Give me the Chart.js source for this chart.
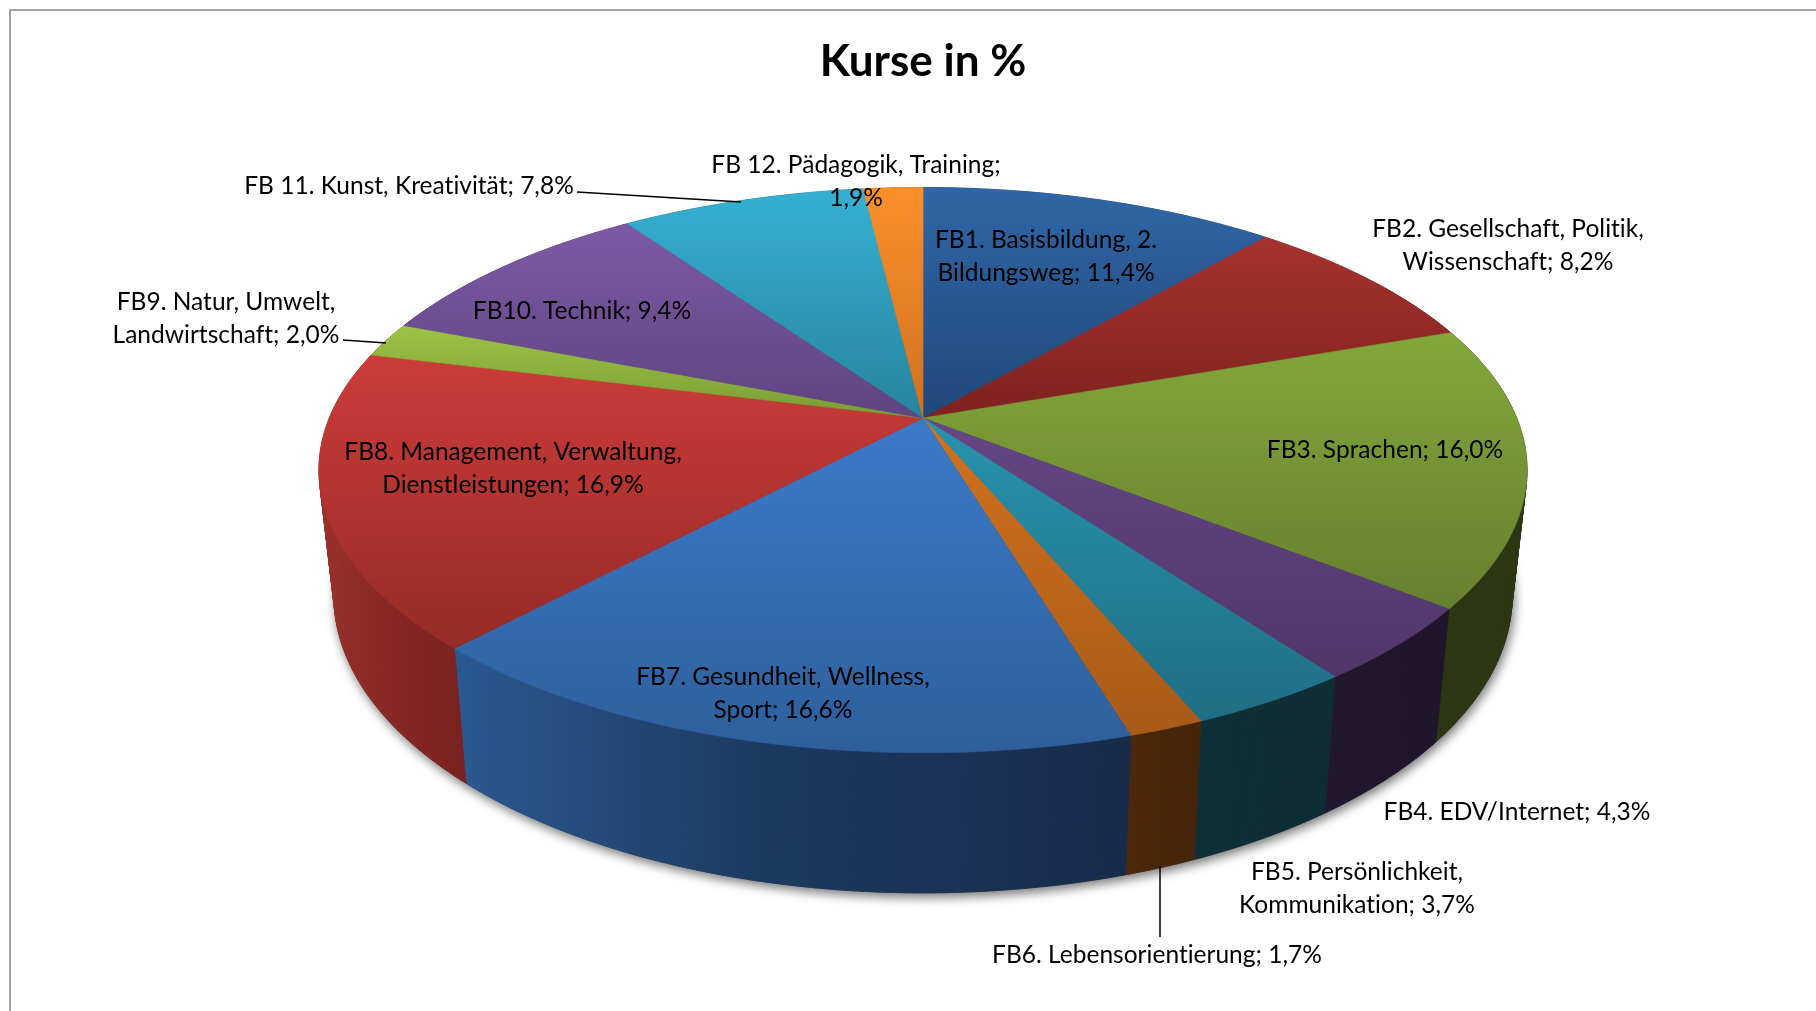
<!DOCTYPE html>
<html lang="de">
<head>
    <meta charset="UTF-8">
    <title>Kurse in %</title>
    <script src="https://cdnjs.cloudflare.com/ajax/libs/Chart.js/4.4.1/chart.umd.js"></script>
    <style>
        html, body { margin: 0; padding: 0; background: #fff; overflow: hidden; }
        #frame {
            position: absolute; left: 9px; top: 9px; right: 0; bottom: 0;
            border-top: 2px solid #a3a3a3; border-left: 2px solid #a3a3a3;
        }
        #kurseChart { position: absolute; left: 0; top: 0; }
    </style>
</head>
<body>
    <div id="frame"></div>
    <canvas id="kurseChart" width="1816" height="1011"></canvas>
    <script>
        const categories = [
            'FB1. Basisbildung, 2. Bildungsweg',
            'FB2. Gesellschaft, Politik, Wissenschaft',
            'FB3. Sprachen',
            'FB4. EDV/Internet',
            'FB5. Persönlichkeit, Kommunikation',
            'FB6. Lebensorientierung',
            'FB7. Gesundheit, Wellness, Sport',
            'FB8. Management, Verwaltung, Dienstleistungen',
            'FB9. Natur, Umwelt, Landwirtschaft',
            'FB10. Technik',
            'FB 11. Kunst, Kreativität',
            'FB 12. Pädagogik, Training'
        ];
        const values = [11.4, 8.2, 16.0, 4.3, 3.7, 1.7, 16.6, 16.9, 2.0, 9.4, 7.8, 1.9];

        // where each label wraps (text of the first line), null = one line
        const firstLines = [
            'FB1. Basisbildung, 2.', 'FB2. Gesellschaft, Politik,', null, null,
            'FB5. Persönlichkeit,', null, 'FB7. Gesundheit, Wellness,',
            'FB8. Management, Verwaltung,', 'FB9. Natur, Umwelt,', null, null,
            'FB 12. Pädagogik, Training;'
        ];

        // label centre x / first line centre y
        const labelX = [1046, 1508, 1385, 1517, 1357, 1157, 783, 513, 226, 582, 409, 856];
        const labelY = [240, 229, 450, 812, 872, 955, 677, 452, 302, 311, 186, 165];

        // leader lines: x1, y1, x2, y2
        const leaders = [
            [577, 192, 741, 202],
            [343, 340, 386, 343],
            [1160, 866, 1160, 937]
        ];

        const topColors = [
            ['#3066a6', '#20487a'], ['#a8322e', '#7e2220'], ['#82a83a', '#66802e'],
            ['#664686', '#4f3668'], ['#2894ae', '#1f6e85'], ['#d2721e', '#a85a18'],
            ['#3c7ac8', '#2e5f9c'], ['#cc3c38', '#962b27'], ['#9cc444', '#7a9c36'],
            ['#7e5aa6', '#5e4480'], ['#35b0d2', '#27849e'], ['#fb902a', '#d07020']
        ];
        const wallColors = [
            ['#1a3355', '#1a3355', '#1a3355'], ['#5a1a18', '#5a1a18', '#5a1a18'], ['#2c3612', '#2c3612', '#2c3612'],
            ['#21172f', '#20162d', '#1f152b'], ['#0e3038', '#0f2e37', '#0e2c35'], ['#4c280c', '#48260a', '#44240a'],
            ['#2a5a92', '#1c3a62', '#172b4a'], ['#9a312b', '#8a2825', '#7a2220'], ['#445a20', '#445a20', '#445a20'],
            ['#3c2a52', '#3c2a52', '#3c2a52'], ['#1c5c70', '#1c5c70', '#1c5c70'], ['#8a4a10', '#8a4a10', '#8a4a10']
        ];

        // perspective of the disc: k is the same for both faces
        const topFace = { cx: 923, cy: 418, a: 593.7, b: 273, k: 0.1844 };
        const lowFace = { cx: 923, cy: 541, a: 579, b: 287, k: 0.1844 };

        function project(face, ang) {
            const w = 1 - face.k * Math.sin(ang);
            return [face.cx + face.a * Math.cos(ang) / w, face.cy + face.b * Math.sin(ang) / w];
        }

        function rim(face, start, end) {
            const steps = Math.max(2, Math.ceil((end - start) / 0.01));
            const pts = [];
            for (let i = 0; i <= steps; i++) {
                pts.push(project(face, start + (end - start) * i / steps));
            }
            return pts;
        }

        function fillPoly(ctx, pts, fill) {
            ctx.beginPath();
            pts.forEach((p, i) => i ? ctx.lineTo(p[0], p[1]) : ctx.moveTo(p[0], p[1]));
            ctx.closePath();
            ctx.fillStyle = fill;
            ctx.strokeStyle = fill;
            ctx.lineWidth = 0.6;
            ctx.fill();
            ctx.stroke();
        }

        function labelText(i) {
            const full = categories[i] + '; ' + values[i].toFixed(1).replace('.', ',') + '%';
            if (!firstLines[i]) return [full];
            return [firstLines[i], full.slice(firstLines[i].length).trim()];
        }

        const pie3d = {
            id: 'pie3d',
            beforeDatasetsDraw(chart) {
                const ctx = chart.ctx;
                const arcs = chart.getDatasetMeta(0).data;

                // side walls as thin strips, so the outer edge follows the tangent of both faces
                const walls = [];
                arcs.forEach((arc, i) => {
                    const up = rim(topFace, arc.startAngle, arc.endAngle);
                    const low = rim(lowFace, arc.startAngle, arc.endAngle);
                    const xs = up.concat(low).map(p => p[0]);
                    const g = ctx.createLinearGradient(Math.min(...xs), 0, Math.max(...xs), 0);
                    g.addColorStop(0, wallColors[i][0]);
                    g.addColorStop(0.45, wallColors[i][1]);
                    g.addColorStop(1, wallColors[i][2]);
                    for (let n = 0; n < up.length - 1; n++) {
                        walls.push({ pts: [up[n], up[n + 1], low[n + 1], low[n]], fill: g });
                    }
                });

                // soft shadow under the whole body
                ctx.save();
                ctx.shadowColor = 'rgba(0,0,0,0.55)';
                ctx.shadowBlur = 11;
                ctx.shadowOffsetX = 2;
                ctx.shadowOffsetY = 4;
                fillPoly(ctx, rim(lowFace, 0, Math.PI * 2), '#333');
                ctx.restore();

                walls.forEach(w => fillPoly(ctx, w.pts, w.fill));

                // top face
                arcs.forEach((arc, i) => {
                    const pts = [[topFace.cx, topFace.cy]].concat(rim(topFace, arc.startAngle, arc.endAngle));
                    const ys = pts.map(p => p[1]);
                    const g = ctx.createLinearGradient(0, Math.min(...ys), 0, Math.max(...ys));
                    g.addColorStop(0, topColors[i][0]);
                    g.addColorStop(1, topColors[i][1]);
                    fillPoly(ctx, pts, g);
                });

                // the flat arcs are replaced by the drawing above
                return false;
            },
            afterDraw(chart) {
                const ctx = chart.ctx;
                ctx.save();
                ctx.strokeStyle = '#000';
                ctx.lineWidth = 1.5;
                leaders.forEach(l => {
                    ctx.beginPath();
                    ctx.moveTo(l[0], l[1]);
                    ctx.lineTo(l[2], l[3]);
                    ctx.stroke();
                });
                ctx.fillStyle = '#000';
                ctx.font = '24.5px Lato';
                ctx.letterSpacing = '0.01px'; // keeps "ti" from turning into a ligature
                ctx.textAlign = 'center';
                ctx.textBaseline = 'middle';
                categories.forEach((c, i) => {
                    labelText(i).forEach((line, n) => {
                        ctx.fillText(line, labelX[i], labelY[i] + n * 33);
                    });
                });
                ctx.restore();
            }
        };

        new Chart(document.getElementById('kurseChart').getContext('2d'), {
            type: 'pie',
            data: {
                labels: categories,
                datasets: [{ data: values, borderWidth: 0 }]
            },
            options: {
                responsive: false,
                animation: false,
                layout: { padding: { left: 30 } },
                plugins: {
                    legend: { display: false },
                    tooltip: { enabled: false },
                    title: {
                        display: true,
                        text: 'Kurse in %',
                        color: '#000',
                        font: { family: 'Lato', size: 44, weight: 'bold', lineHeight: 1.2 },
                        padding: { top: 35, bottom: 10 }
                    }
                }
            },
            plugins: [pie3d]
        });
    </script>
</body>
</html>
